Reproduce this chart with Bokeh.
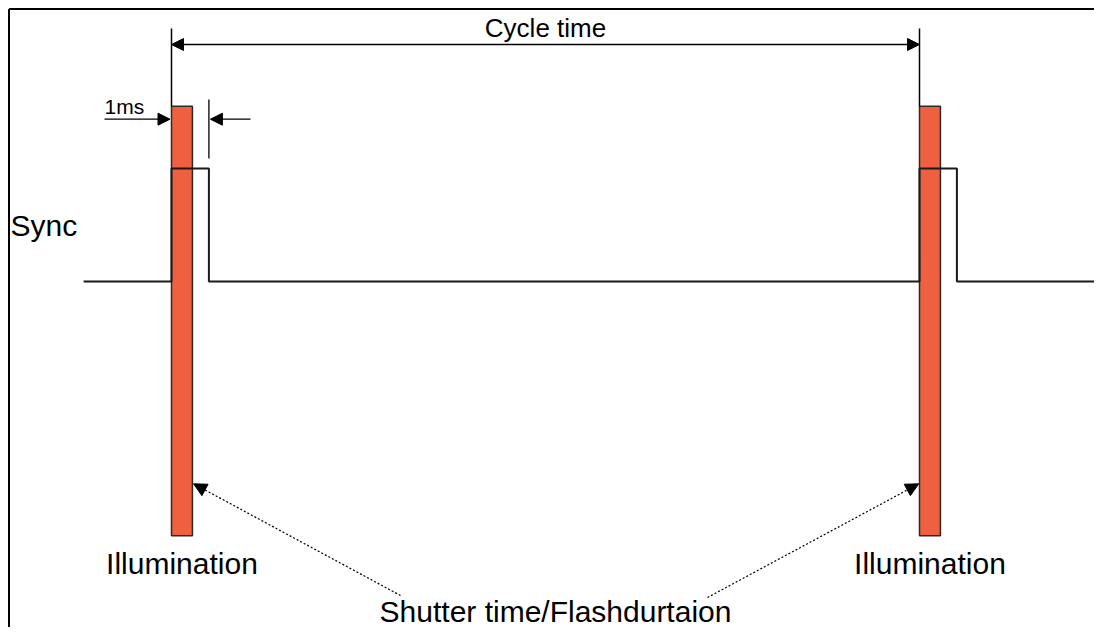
from bokeh.plotting import figure
from bokeh.models import Range1d, Arrow, NormalHead, Label
from bokeh.embed import file_html
from bokeh.resources import INLINE

# ---- timing data (ms) ----
cycle_starts = [0.0, 20.0]          # flash / sync trigger times
cycle_time = 20.0
sync_width = 1.0                    # sync pulse width
flash_width = 0.56                  # shutter / flash duration
trace_start, trace_end = -2.35, 24.76
sync_low, sync_high = 0.0, 1.0
flash_top, flash_bottom = 1.55, -2.25

labels_illum = ["Illumination", "Illumination"]
label_sync = "Sync"
label_cycle = "Cycle time"
label_1ms = "1ms"
label_shutter = "Shutter time/Flashdurtaion"

# build sync trace from the data
xs = [trace_start]
ys = [sync_low]
for t in cycle_starts:
    xs += [t, t, t + sync_width, t + sync_width]
    ys += [sync_low, sync_high, sync_high, sync_low]
xs.append(trace_end)
ys.append(sync_low)

# ---- layout ----
PX_X = 37.4   # pixels per ms
PX_Y = 113.0  # pixels per level unit
X_ORIGIN_PX = 171.0
Y_ORIGIN_PX = 281.0
W, H = 1094, 627
x0 = -X_ORIGIN_PX / PX_X
y1 = Y_ORIGIN_PX / PX_Y


def X(px):
    return (px - X_ORIGIN_PX) / PX_X


def Y(py):
    return (Y_ORIGIN_PX - py) / PX_Y


p = figure(width=W, height=H, output_backend="svg", toolbar_location=None,
           x_range=Range1d(x0, x0 + W / PX_X), y_range=Range1d(y1 - H / PX_Y, y1),
           min_border=0)
p.axis.visible = False
p.grid.grid_line_color = None
p.outline_line_color = None
p.background_fill_color = "white"
p.border_fill_color = "white"

FONT = "Liberation Sans"

# frame lines (top / left)
p.segment(x0=[X(8.5), X(8.5)], y0=[Y(8.5), Y(8.5)], x1=[X(W + 5), X(8.5)], y1=[Y(8.5), Y(H + 5)],
          line_color="black", line_width=2)

# illumination bars
p.quad(left=cycle_starts, right=[t + flash_width for t in cycle_starts],
       top=[flash_top] * 2, bottom=[flash_bottom] * 2,
       fill_color="#EF6040", line_color="#2a2a2a", line_width=1.5)

# sync trace
p.line(xs, ys, line_color="#1a1a1a", line_width=2)

# cycle time reference lines
for t in cycle_starts:
    p.segment(x0=[t], y0=[Y(28)], x1=[t], y1=[flash_top], line_color="black", line_width=1.5)

head = dict(fill_color="black", line_color="black", line_width=1)

# cycle time arrow
p.add_layout(Arrow(x_start=cycle_starts[0], y_start=Y(44), x_end=cycle_starts[1], y_end=Y(44),
                   start=NormalHead(size=12, **head), end=NormalHead(size=12, **head),
                   line_width=1.3, line_color="black"))
p.add_layout(Label(x=cycle_starts[0] + cycle_time / 2, y=Y(27.9), text=label_cycle,
                   text_align="center", text_baseline="alphabetic",
                   text_font=FONT, text_font_size="26px", text_color="black"))

# 1ms marker
t_end = cycle_starts[0] + sync_width
p.segment(x0=[t_end], y0=[Y(99)], x1=[t_end], y1=[Y(158)], line_color="black", line_width=1.3)
p.add_layout(Arrow(x_start=X(104), y_start=Y(118.7), x_end=cycle_starts[0] - 0.04, y_end=Y(118.7),
                   end=NormalHead(size=12, **head), line_width=1.3, line_color="black"))
p.add_layout(Arrow(x_start=X(250), y_start=Y(118.7), x_end=t_end + 0.04, y_end=Y(118.7),
                   end=NormalHead(size=12, **head), line_width=1.3, line_color="black"))
p.add_layout(Label(x=X(104), y=Y(105.6), text=label_1ms, text_align="left",
                   text_baseline="alphabetic", text_font=FONT, text_font_size="21px",
                   text_color="black"))

# Sync label
p.add_layout(Label(x=X(10), y=Y(224.8), text=label_sync, text_align="left",
                   text_baseline="alphabetic", text_font=FONT, text_font_size="30px",
                   text_color="black"))

# Illumination labels
for t, lab in zip(cycle_starts, labels_illum):
    p.add_layout(Label(x=t + flash_width / 2, y=Y(562.8), text=lab, text_align="center",
                       text_baseline="alphabetic", text_font=FONT, text_font_size="30px",
                       text_color="black"))

# Shutter label and dotted arrows
p.add_layout(Label(x=X(555), y=Y(611), text=label_shutter, text_align="center",
                   text_baseline="alphabetic", text_font=FONT, text_font_size="30px",
                   text_color="black"))
p.add_layout(Arrow(x_start=X(400), y_start=Y(595), x_end=cycle_starts[0] + flash_width + 0.03,
                   y_end=Y(483.3), end=NormalHead(size=13, **head),
                   line_width=1.2, line_color="black", line_dash="2 2"))
p.add_layout(Arrow(x_start=X(707), y_start=Y(597), x_end=cycle_starts[1] - 0.02,
                   y_end=Y(483.3), end=NormalHead(size=13, **head),
                   line_width=1.2, line_color="black", line_dash="2 2"))

open("out.html", "w").write(file_html(p, INLINE))
